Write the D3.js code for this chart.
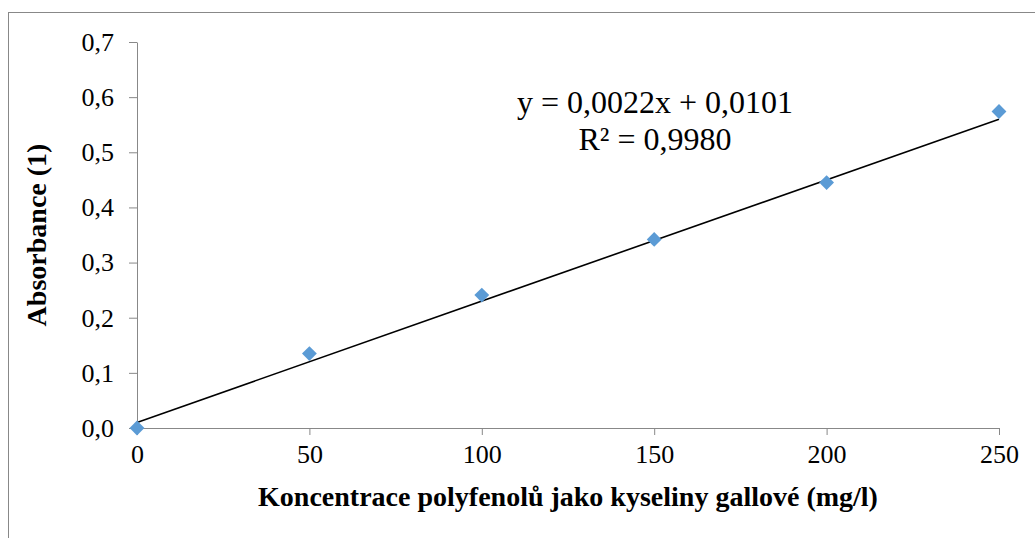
<!DOCTYPE html>
<html>
<head>
<meta charset="utf-8">
<script src="https://cdn.jsdelivr.net/npm/d3@7"></script>
<style>
  html, body { margin: 0; padding: 0; background: #fff; }
  svg { display: block; }
</style>
</head>
<body>
<svg id="chart"></svg>
<script>
// data
const concentrations = [0, 50, 100, 150, 200, 250];
const absorbance = [0.0, 0.135, 0.241, 0.342, 0.445, 0.574];
const trendCoef = [0.0022, 0.0101]; // slope, intercept
const equationLines = ["y = 0,0022x + 0,0101", "R² = 0,9980"];
const xTicks = [0, 50, 100, 150, 200, 250];
const yTicks = [0, 0.1, 0.2, 0.3, 0.4, 0.5, 0.6, 0.7];
const xTitle = "Koncentrace polyfenolů jako kyseliny gallové (mg/l)";
const yTitle = "Absorbance (1)";

const width = 1035, height = 538;
const marginLeft = 137, marginRight = 36, marginTop = 42, marginBottom = 110;
const axisColor = "#888888";
const markerColor = "#5b9bd5";
const font = "Liberation Serif";

const svg = d3.select("#chart")
    .attr("width", width)
    .attr("height", height)
    .attr("viewBox", [0, 0, width, height])
    .attr("font-family", font);

// chart frame (cropped at right and bottom in the original)
svg.append("rect")
    .attr("x", 8.5)
    .attr("y", 12.5)
    .attr("width", width + 10)
    .attr("height", height + 10)
    .attr("fill", "none")
    .attr("stroke", axisColor)
    .attr("stroke-width", 1);

const x = d3.scaleLinear([0, 250], [marginLeft, width - marginRight]);
const y = d3.scaleLinear([0, 0.7], [height - marginBottom, marginTop]);

const fmtY = d => d3.format(".1f")(d).replace(".", ",");

// x axis
svg.append("g")
    .attr("transform", `translate(0,${y(0)})`)
    .call(d3.axisBottom(x).tickValues(xTicks).tickSize(7).tickSizeOuter(0).tickPadding(10))
    .attr("font-family", font)
    .call(g => g.select(".domain").attr("stroke", axisColor))
    .call(g => g.selectAll(".tick line").attr("stroke", axisColor))
    .call(g => g.selectAll(".tick text")
        .attr("fill", "#000")
        .attr("font-size", 26));

// y axis
svg.append("g")
    .attr("transform", `translate(${x(0)},0)`)
    .call(d3.axisLeft(y).tickValues(yTicks).tickFormat(fmtY).tickSize(8).tickSizeOuter(0).tickPadding(15))
    .attr("font-family", font)
    .call(g => g.select(".domain").attr("stroke", axisColor))
    .call(g => g.selectAll(".tick line").attr("stroke", axisColor))
    .call(g => g.selectAll(".tick text")
        .attr("fill", "#000")
        .attr("font-size", 26));

// axis titles
svg.append("text")
    .attr("x", (x(0) + x(250)) / 2)
    .attr("y", 506)
    .attr("text-anchor", "middle")
    .attr("font-size", 28)
    .attr("font-weight", "bold")
    .text(xTitle);

svg.append("text")
    .attr("transform", `translate(46,${(y(0) + y(0.7)) / 2}) rotate(-90)`)
    .attr("text-anchor", "middle")
    .attr("font-size", 28)
    .attr("font-weight", "bold")
    .text(yTitle);

// linear trendline
const trend = d3.line()
    .x(d => x(d))
    .y(d => y(trendCoef[0] * d + trendCoef[1]));

svg.append("path")
    .datum([0, 250])
    .attr("fill", "none")
    .attr("stroke", "#000")
    .attr("stroke-width", 1.6)
    .attr("d", trend);

// markers
const diamond = d3.symbol().type(d3.symbolSquare).size(110);
svg.append("g")
    .selectAll("path")
    .data(concentrations)
    .join("path")
      .attr("transform", (d, i) => `translate(${x(d)},${y(absorbance[i])}) rotate(45)`)
      .attr("d", diamond)
      .attr("fill", markerColor);

// equation label
svg.append("text")
    .attr("text-anchor", "middle")
    .attr("font-size", 32)
    .selectAll("tspan")
    .data(equationLines)
    .join("tspan")
      .attr("x", 655)
      .attr("y", (d, i) => 113 + i * 37)
      .text(d => d);
</script>
</body>
</html>
